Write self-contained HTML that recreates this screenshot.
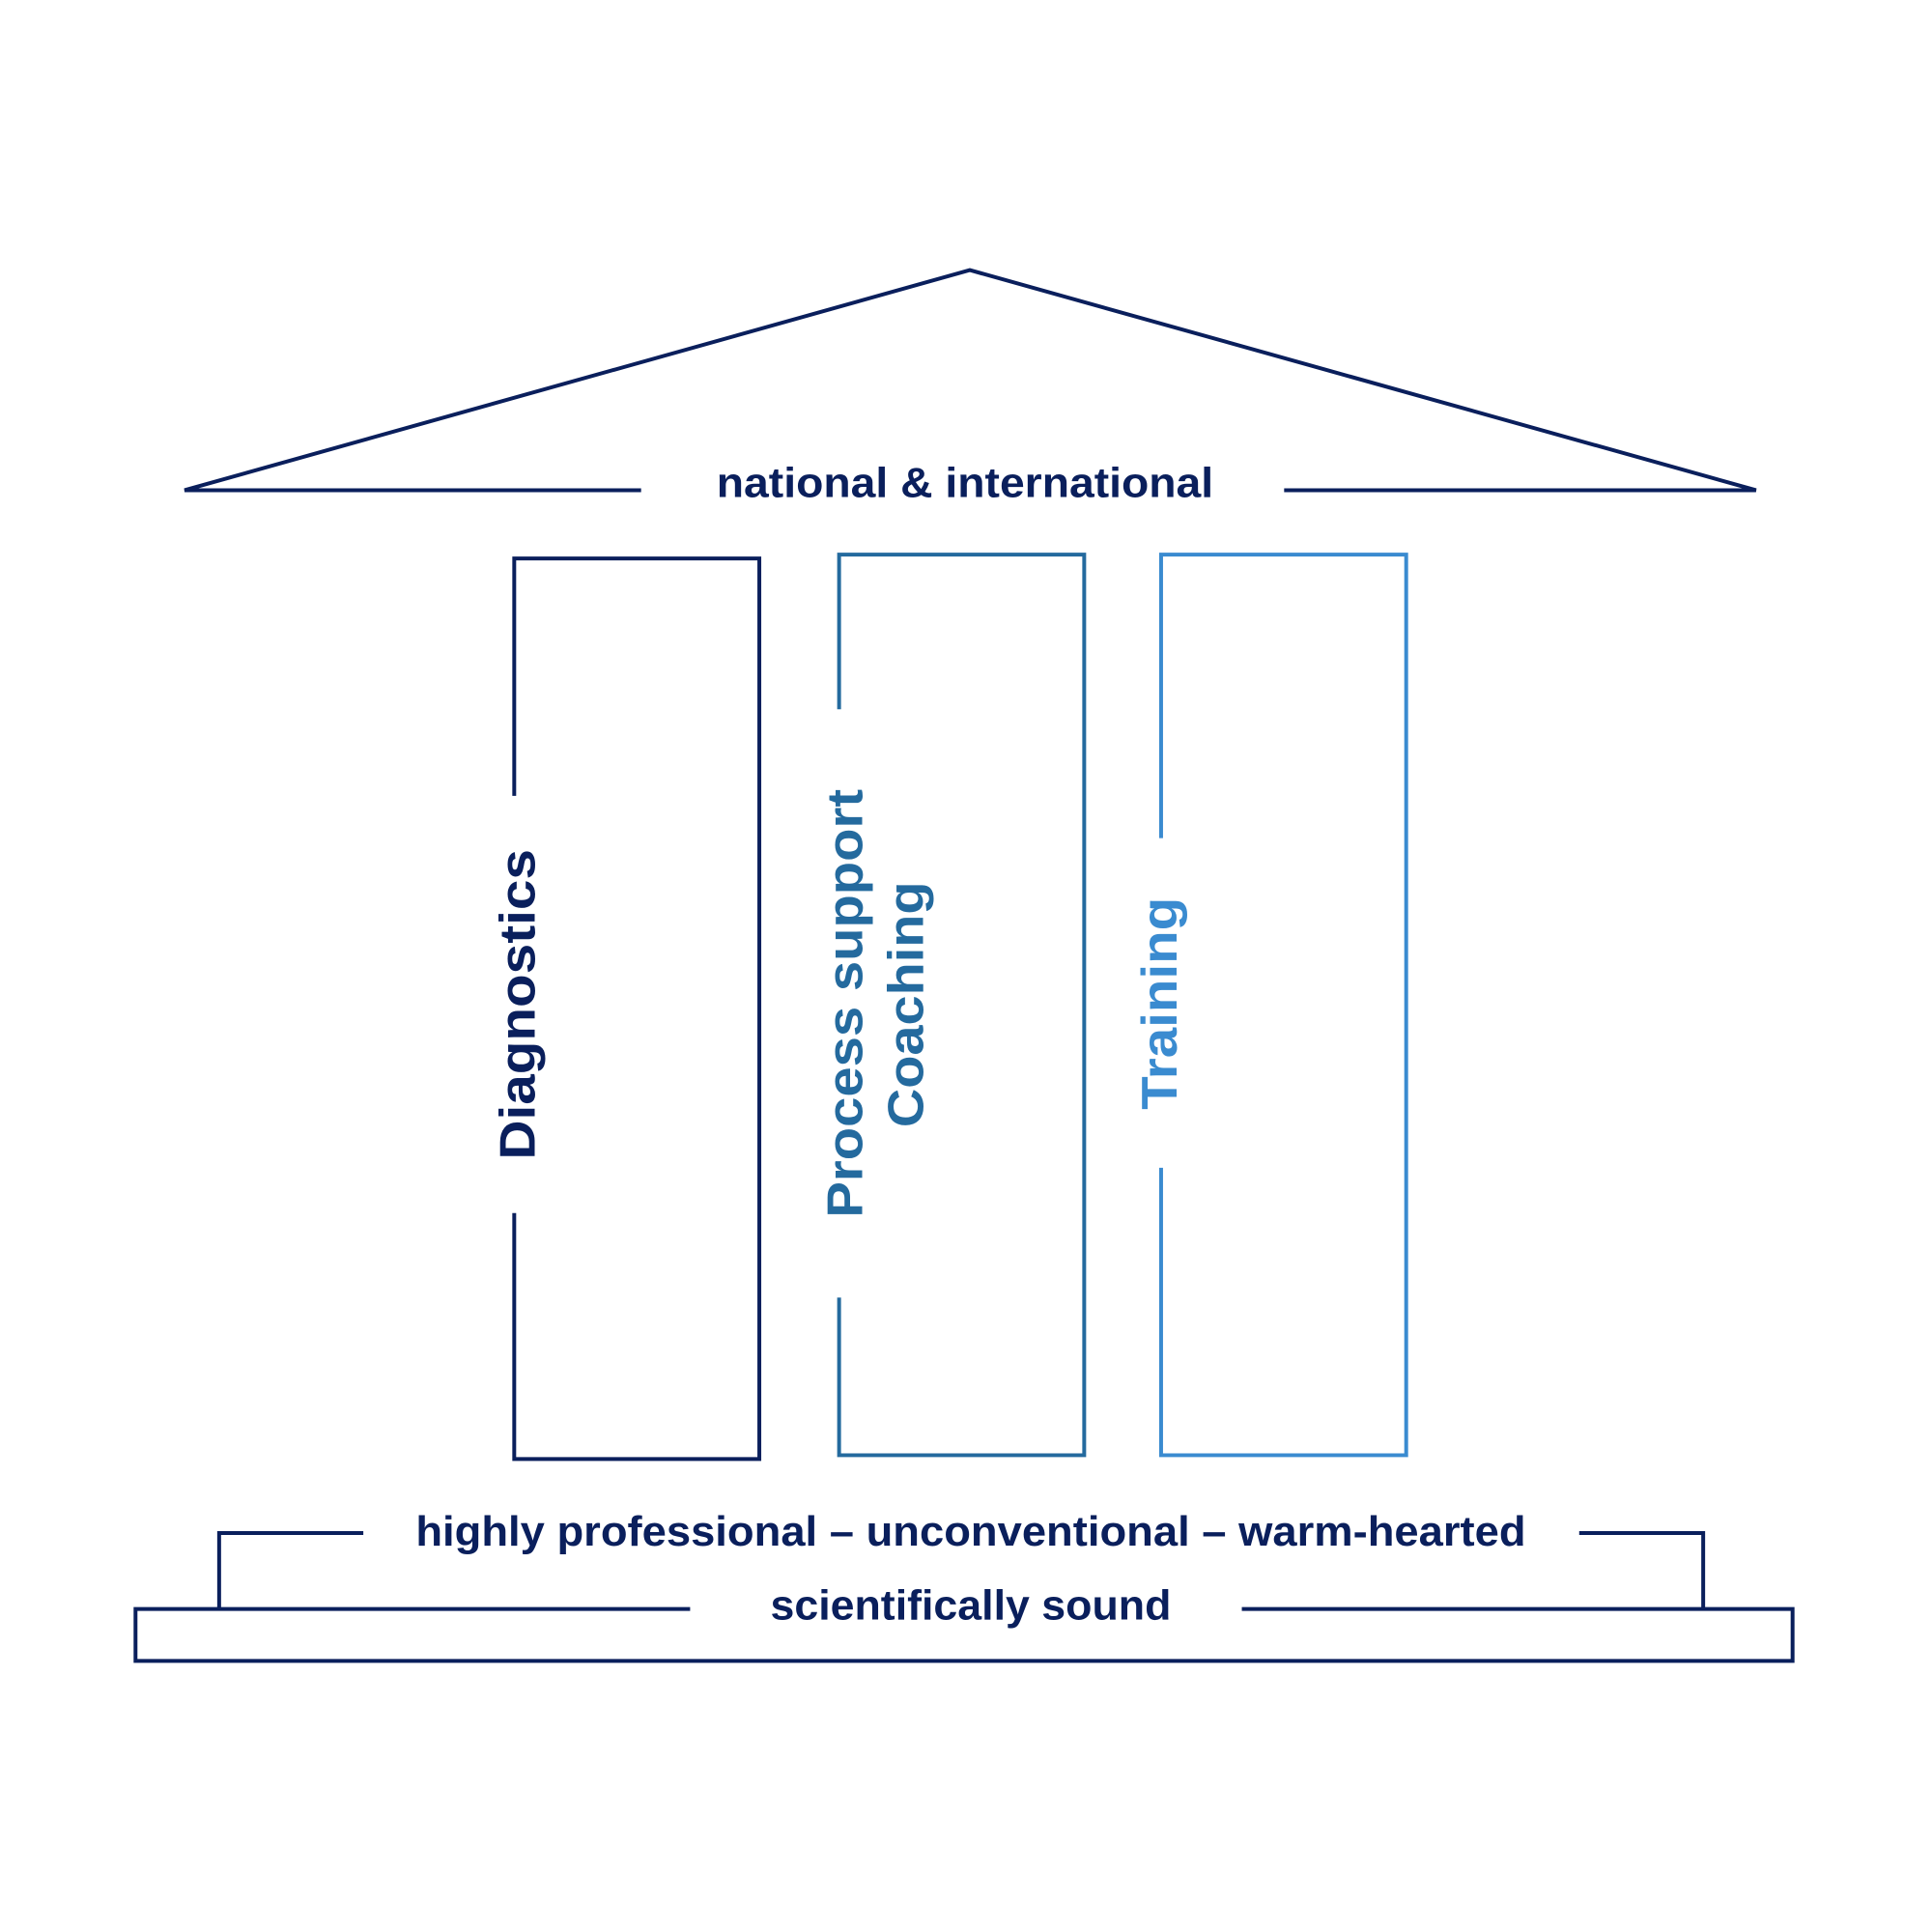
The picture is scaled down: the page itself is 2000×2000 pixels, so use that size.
<!DOCTYPE html>
<html><head><meta charset="utf-8"><style>
html,body{margin:0;padding:0;background:#fff;width:2000px;height:2000px;overflow:hidden}
svg{display:block}
text{font-family:"Liberation Sans",Arial,sans-serif;font-weight:bold}
</style></head><body>
<svg width="2000" height="2000" viewBox="0 0 2000 2000" xmlns="http://www.w3.org/2000/svg">
<g transform="scale(0.995)">
<g fill="none" stroke="#0a1f5c" stroke-width="4">
  <polyline points="667,510 192,510 1009,281 1827,510 1336,510"/>
  <polyline points="535,828 535,581 790,581 790,1518 535,1518 535,1262"/>
  <polyline points="378,1595 228,1595 228,1674"/>
  <polyline points="1643,1595 1772,1595 1772,1674"/>
  <polyline points="718,1674 141,1674 141,1728 1865,1728 1865,1674 1292,1674"/>
</g>
<polyline fill="none" stroke="#246a9e" stroke-width="4" points="873,738 873,577 1128,577 1128,1514 873,1514 873,1350"/>
<polyline fill="none" stroke="#3a8bd0" stroke-width="4" points="1208,872 1208,577 1463,577 1463,1514 1208,1514 1208,1215"/>
<g fill="#0a1f5c" font-size="44" text-anchor="middle">
  <text x="1004" y="517" textLength="517" lengthAdjust="spacingAndGlyphs">national &amp; international</text>
  <text x="1010" y="1608" textLength="1155" lengthAdjust="spacingAndGlyphs">highly professional – unconventional – warm-hearted</text>
  <text x="1010" y="1685" textLength="417" lengthAdjust="spacingAndGlyphs">scientifically sound</text>
</g>
<g font-size="52" text-anchor="middle" dominant-baseline="central">
  <text transform="translate(538,1045) rotate(-90)" fill="#0a1f5c" textLength="323" lengthAdjust="spacingAndGlyphs">Diagnostics</text>
  <text transform="translate(879,1044) rotate(-90)" fill="#246a9e" textLength="446" lengthAdjust="spacingAndGlyphs">Process support</text>
  <text transform="translate(942,1045) rotate(-90)" fill="#246a9e" textLength="256" lengthAdjust="spacingAndGlyphs">Coaching</text>
  <text transform="translate(1206,1044) rotate(-90)" fill="#3a8bd0" textLength="221" lengthAdjust="spacingAndGlyphs">Training</text>
</g>
</g>
</svg>
</body></html>
